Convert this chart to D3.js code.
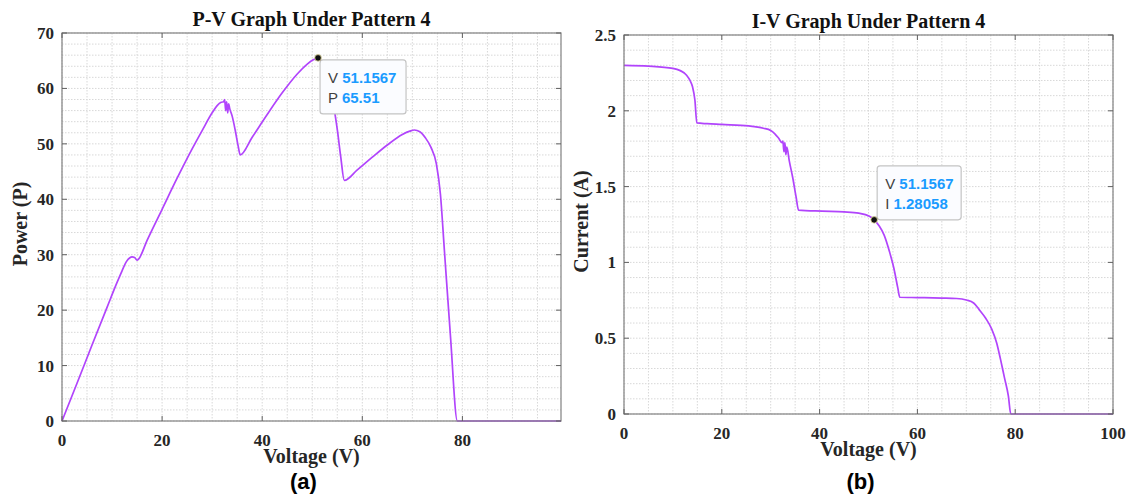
<!DOCTYPE html>
<html>
<head>
<meta charset="utf-8">
<script src="https://cdn.jsdelivr.net/npm/d3@7"></script>
<style>
  body { margin: 0; background: #fff; }
  svg { display: block; }
  .tick-lbl { font-family: "Liberation Serif", "Times New Roman", serif; font-weight: bold; font-size: 17px; fill: #262626; }
  .ttl { font-family: "Liberation Serif", "Times New Roman", serif; font-weight: bold; font-size: 20px; fill: #111; }
  .axlbl { font-family: "Liberation Serif", "Times New Roman", serif; font-weight: bold; font-size: 20px; fill: #262626; }
  .cap { font-family: "Liberation Sans", Arial, sans-serif; font-weight: bold; font-size: 22px; fill: #000; }
  .tip { font-family: "Liberation Sans", Arial, sans-serif; font-size: 15px; }
</style>
</head>
<body>
<svg id="chart" width="1137" height="498"></svg>
<script>
// ---- data ----
// P-V curve (left panel)
var pvVoltage = [0, 3, 6, 9, 11, 12, 12.9, 13.5, 14, 14.5, 15, 15.3, 17, 20, 23, 26, 28, 30, 31, 31.8,
  32.3, 32.5, 32.7, 32.9, 33.1, 33.3, 33.5, 34, 34.6, 35.2, 35.6, 38, 41, 44, 47, 49, 50.3, 51.16,
  52, 53, 54, 55, 55.7, 56.4, 59, 62, 65, 68, 69.5, 70.4, 71.5, 72.6, 73.7, 74.8, 75.6, 76.4, 77.6, 79.0, 99.7];
var pvPower = [0, 6.8, 13.7, 20.5, 25.0, 27.1, 28.8, 29.4, 29.6, 29.5, 29.0, 29.2, 32.6, 38.2, 43.8, 49.1, 52.4, 55.6, 56.9, 57.5,
  57.6, 58.0, 56.0, 57.6, 55.6, 57.2, 56.4, 55.0, 52.5, 49.6, 48.0, 51.2, 55.3, 59.2, 62.6, 64.4, 65.2, 65.51,
  64.5, 62.0, 58.2, 52.6, 47.6, 43.4, 45.3, 47.6, 49.8, 51.7, 52.3, 52.5, 52.2, 51.1, 49.4, 46.4, 41.0, 30.8, 15.5, 0, 0];

// I-V curve (right panel)
var ivVoltage = [0, 5, 10, 11.5, 12.8, 13.5, 14, 14.5, 14.9, 17, 20, 25.5, 28.5, 30, 30.8, 31.6, 32.3,
  32.5, 32.7, 32.9, 33.1, 33.3, 33.8, 34.5, 35.2, 35.7, 40.5, 45, 48, 50.2, 51.16, 52.2, 53.2, 54.3,
  55.2, 56, 56.4, 60, 65, 68, 70, 71.5, 72.6, 74, 75.2, 76.2, 77, 77.8, 78.6, 79.1, 100];
var ivCurrent = [2.30, 2.295, 2.28, 2.265, 2.235, 2.20, 2.16, 2.07, 1.92, 1.915, 1.91, 1.90, 1.885, 1.87, 1.85, 1.82, 1.79,
  1.80, 1.73, 1.79, 1.71, 1.76, 1.67, 1.56, 1.43, 1.345, 1.338, 1.333, 1.325, 1.305, 1.28058, 1.24, 1.18, 1.07,
  0.96, 0.83, 0.77, 0.768, 0.765, 0.762, 0.752, 0.732, 0.69, 0.63, 0.56, 0.47, 0.36, 0.24, 0.12, 0, 0];

var pvYTicks = [0, 10, 20, 30, 40, 50, 60, 70];
var pvXTicks = [0, 20, 40, 60, 80];
var ivYTicks = [0, 0.5, 1, 1.5, 2, 2.5];
var ivXTicks = [0, 20, 40, 60, 80, 100];

var curveColor = "#b144fc";
var svg = d3.select("#chart");

function panel(cfg) {
  var x = d3.scaleLinear().domain(cfg.xDomain).range([cfg.left, cfg.right]);
  var y = d3.scaleLinear().domain(cfg.yDomain).range([cfg.bottom, cfg.top]);
  var g = svg.append("g");

  // grid lines (dotted, light) at minor spacing
  var xMinor = d3.range(cfg.xDomain[0], cfg.xDomain[1] + 1e-9, cfg.xMinor);
  var yMinor = d3.range(cfg.yDomain[0], cfg.yDomain[1] + 1e-9, cfg.yMinor);
  g.selectAll(".gx").data(xMinor).enter().append("line")
    .attr("x1", d => x(d)).attr("x2", d => x(d))
    .attr("y1", cfg.top).attr("y2", cfg.bottom)
    .attr("stroke", "#d8d8d8").attr("stroke-width", 1).attr("stroke-dasharray", "1.5,1.5");
  g.selectAll(".gy").data(yMinor).enter().append("line")
    .attr("y1", d => y(d)).attr("y2", d => y(d))
    .attr("x1", cfg.left).attr("x2", cfg.right)
    .attr("stroke", "#d8d8d8").attr("stroke-width", 1).attr("stroke-dasharray", "1.5,1.5");

  // curve
  g.append("path").datum(cfg.ys)
    .attr("d", d3.line().x((d, i) => x(cfg.xs[i])).y(d => y(d)).curve(d3.curveMonotoneX))
    .attr("fill", "none").attr("stroke", curveColor).attr("stroke-width", 1.7);

  // frame with inward ticks on all sides
  g.append("rect").attr("x", cfg.left).attr("y", cfg.top)
    .attr("width", cfg.right - cfg.left).attr("height", cfg.bottom - cfg.top)
    .attr("fill", "none").attr("stroke", "#808080").attr("stroke-width", 1.2);

  var tl = 5;
  cfg.xTicks.forEach(function (t) {
    g.append("line").attr("x1", x(t)).attr("x2", x(t)).attr("y1", cfg.bottom).attr("y2", cfg.bottom - tl).attr("stroke", "#606060");
    g.append("line").attr("x1", x(t)).attr("x2", x(t)).attr("y1", cfg.top).attr("y2", cfg.top + tl).attr("stroke", "#606060");
    g.append("text").attr("class", "tick-lbl").attr("x", x(t)).attr("y", cfg.bottom + 25)
      .attr("text-anchor", "middle").text(t);
  });
  cfg.yTicks.forEach(function (t) {
    g.append("line").attr("y1", y(t)).attr("y2", y(t)).attr("x1", cfg.left).attr("x2", cfg.left + tl).attr("stroke", "#606060");
    g.append("line").attr("y1", y(t)).attr("y2", y(t)).attr("x1", cfg.right).attr("x2", cfg.right - tl).attr("stroke", "#606060");
    g.append("text").attr("class", "tick-lbl").attr("x", cfg.left - 8).attr("y", y(t) + 6)
      .attr("text-anchor", "end").text(t);
  });

  var cx = (cfg.left + cfg.right) / 2;
  g.append("text").attr("class", "ttl").attr("x", cx).attr("y", cfg.top - 7)
    .attr("text-anchor", "middle").text(cfg.title);
  g.append("text").attr("class", "axlbl").attr("x", cx).attr("y", cfg.bottom + 42)
    .attr("text-anchor", "middle").text("Voltage (V)");
  g.append("text").attr("class", "axlbl")
    .attr("transform", "translate(" + cfg.yLabelX + "," + ((cfg.top + cfg.bottom) / 2 - 3) + ") rotate(-90)")
    .attr("text-anchor", "middle").text(cfg.yLabel);
  g.append("text").attr("class", "cap").attr("x", cx - 8).attr("y", 489)
    .attr("text-anchor", "middle").text(cfg.caption);

  // data tip
  var px = x(cfg.tipV), py = y(cfg.tipVal);
  var bx = px + cfg.tipDx, by = py + cfg.tipDy, bw = cfg.tipW, bh = 54;
  g.append("rect").attr("x", bx).attr("y", by).attr("width", bw).attr("height", bh)
    .attr("rx", 3).attr("fill", "#fbfcff").attr("stroke", "#c4c4c4").attr("stroke-width", 1.2);
  var t1 = g.append("text").attr("class", "tip").attr("x", bx + 8).attr("y", by + 23);
  t1.append("tspan").attr("fill", "#404040").text("V ");
  t1.append("tspan").attr("fill", "#1a9bff").attr("font-weight", "bold").text(cfg.tipVText);
  var t2 = g.append("text").attr("class", "tip").attr("x", bx + 8).attr("y", by + 43);
  t2.append("tspan").attr("fill", "#404040").text(cfg.tipName + " ");
  t2.append("tspan").attr("fill", "#1a9bff").attr("font-weight", "bold").text(cfg.tipValText);
  g.append("circle").attr("cx", px).attr("cy", py).attr("r", 3.3)
    .attr("fill", "#111").attr("stroke", "#e8e0a0").attr("stroke-width", 0.8);
}

panel({
  left: 62, right: 561, top: 33, bottom: 421,
  xDomain: [0, 99.7], yDomain: [0, 70], xMinor: 5, yMinor: 2,
  xTicks: pvXTicks, yTicks: pvYTicks, xs: pvVoltage, ys: pvPower,
  title: "P-V Graph Under Pattern 4", yLabel: "Power (P)", yLabelX: 27, caption: "(a)",
  tipV: 51.1567, tipVal: 65.51, tipDx: 2, tipDy: 2, tipW: 86,
  tipVText: "51.1567", tipName: "P", tipValText: "65.51"
});

panel({
  left: 624, right: 1113, top: 35, bottom: 414,
  xDomain: [0, 100], yDomain: [0, 2.5], xMinor: 5, yMinor: 0.1,
  xTicks: ivXTicks, yTicks: ivYTicks, xs: ivVoltage, ys: ivCurrent,
  title: "I-V Graph Under Pattern 4", yLabel: "Current (A)", yLabelX: 588, caption: "(b)",
  tipV: 51.1567, tipVal: 1.28058, tipDx: 3, tipDy: -54, tipW: 84,
  tipVText: "51.1567", tipName: "I", tipValText: "1.28058"
});
</script>
</body>
</html>
